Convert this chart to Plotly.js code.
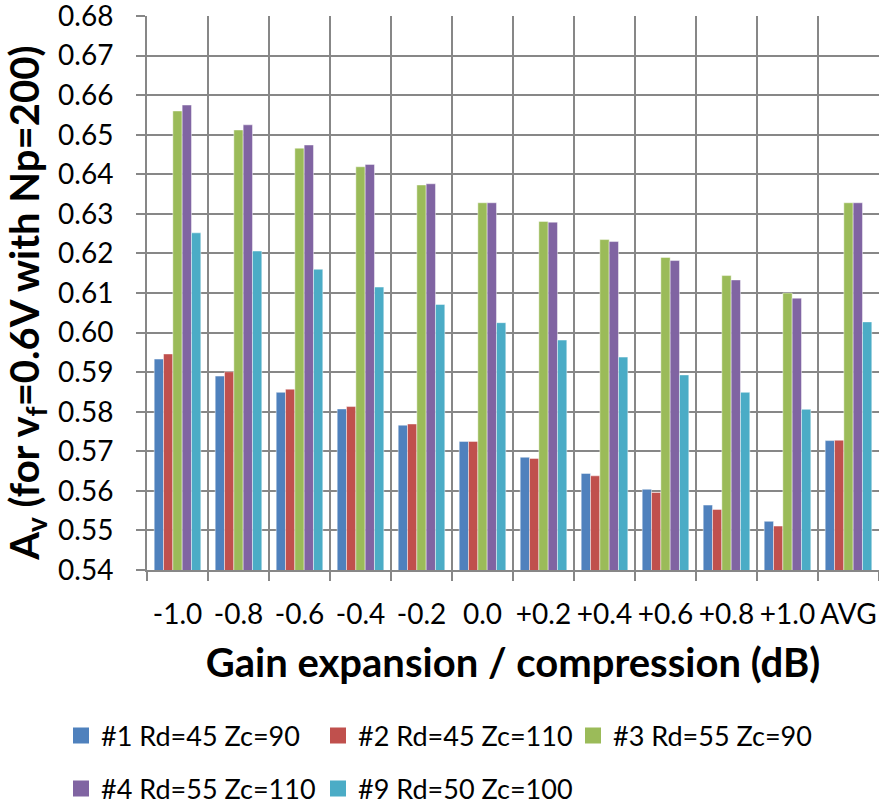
<!DOCTYPE html>
<html>
<head>
<meta charset="utf-8">
<script src="https://cdn.plot.ly/plotly-3.0.1.min.js"></script>
<style>html,body{margin:0;padding:0;background:#fff;}#chart{width:879px;height:804px;}</style>
</head>
<body>
<div id="chart"></div>
<script>
const categories = ["-1.0","-0.8","-0.6","-0.4","-0.2","0.0","+0.2","+0.4","+0.6","+0.8","+1.0","AVG"];
const s1 = [0.5933,0.5890,0.5849,0.5807,0.5766,0.5725,0.5685,0.5644,0.5604,0.5564,0.5523,0.5727];
const s2 = [0.5946,0.5901,0.5857,0.5813,0.5769,0.5725,0.5682,0.5638,0.5596,0.5553,0.5511,0.5728];
const s3 = [0.6560,0.6512,0.6466,0.6419,0.6373,0.6328,0.6281,0.6235,0.6190,0.6144,0.6100,0.6328];
const s4 = [0.6575,0.6525,0.6474,0.6425,0.6376,0.6328,0.6279,0.6230,0.6182,0.6133,0.6087,0.6328];
const s9 = [0.6252,0.6206,0.6160,0.6115,0.6071,0.6025,0.5981,0.5938,0.5893,0.5849,0.5806,0.6027];
const names = ["#1 Rd=45 Zc=90","#2 Rd=45 Zc=110","#3 Rd=55 Zc=90","#4 Rd=55 Zc=110","#9 Rd=50 Zc=100"];
const colors = ["#4F81BD","#C0504D","#9BBB59","#8064A2","#4BACC6"];
const series = [s1,s2,s3,s4,s9];
const legendIds = ["legend","legend","legend3","legend2","legend2"];

const barTraces = series.map((v,i)=>({
  type:"bar", x:categories, y:v, name:names[i],
  marker:{color:colors[i], line:{color:"rgba(255,255,255,0.45)", width:1}},
  showlegend:false, hoverinfo:"x+y+name"
}));
// legend-only proxies (larger square swatches, as in the reference)
const legendTraces = series.map((v,i)=>({
  type:"scatter", mode:"markers", x:[null], y:[null], name:names[i],
  marker:{color:colors[i], symbol:"square", size:16},
  legend: legendIds[i], showlegend:true, hoverinfo:"skip"
}));

const F = "Lato, 'Open Sans', sans-serif";
const legFont = {size:27, family:F, color:"#000"};
const layout = {
  width:879, height:804,
  margin:{l:147, r:0, t:16, b:234},
  paper_bgcolor:"#fff", plot_bgcolor:"#fff",
  barmode:"group", bargap:0.236, bargroupgap:0,
  font:{family:F, color:"#000"},
  xaxis:{
    type:"category", tickson:"boundaries", showgrid:true, gridcolor:"#878787", gridwidth:2,
    ticks:"outside", ticklen:9, tickcolor:"#878787", tickwidth:2, tickangle:0,
    showline:true, linecolor:"#878787", linewidth:2,
    tickfont:{size:28, family:F, color:"#000"}, ticklabelstandoff:18,
    title:{text:"<b>Gain expansion / compression (dB)</b>", font:{size:40, family:F, color:"#000"}, standoff:20}
  },
  yaxis:{
    range:[0.54,0.680001], dtick:0.01, tick0:0.54, tickformat:".2f", ticklabeloverflow:"allow",
    showgrid:true, gridcolor:"#878787", gridwidth:2,
    ticks:"outside", ticklen:9, tickcolor:"#878787", tickwidth:2,
    showline:true, linecolor:"#878787", linewidth:2, zeroline:false,
    tickfont:{size:28, family:F, color:"#000"}, ticklabelstandoff:17,
    title:{text:"<b>A<sub>v</sub> (for v<sub>f</sub>=0.6V with Np=200)&nbsp;&nbsp;</b>", font:{size:40, family:F, color:"#000"}, standoff:7}
  },
  showlegend:true,
  legend:{orientation:"h", xref:"container", yref:"container", x:61/879, y:1-736/804, xanchor:"left", yanchor:"middle",
    font:legFont, traceorder:"normal", entrywidth:212, itemsizing:"trace"},
  legend3:{orientation:"h", xref:"container", yref:"container", x:(61+512)/879, y:1-736/804, xanchor:"left", yanchor:"middle",
    font:legFont, traceorder:"normal", itemsizing:"trace"},
  legend2:{orientation:"h", xref:"container", yref:"container", x:61/879, y:1-789/804, xanchor:"left", yanchor:"middle",
    font:legFont, traceorder:"normal", entrywidth:212, itemsizing:"trace"}
};
Plotly.newPlot("chart", barTraces.concat(legendTraces), layout, {displayModeBar:false});
</script>
</body>
</html>
